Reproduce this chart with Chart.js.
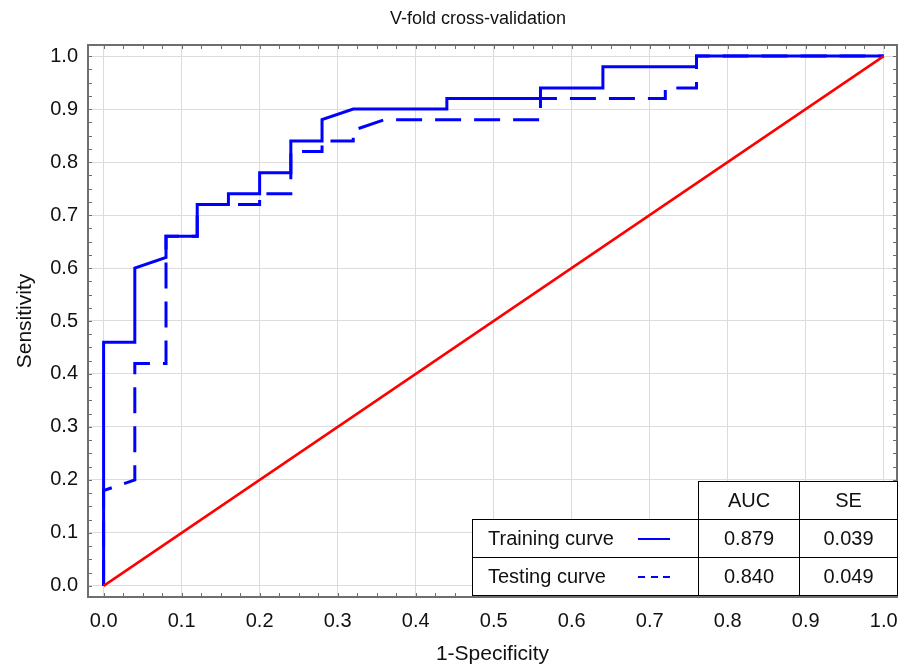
<!DOCTYPE html>
<html>
<head>
<meta charset="utf-8">
<title>V-fold cross-validation</title>
<script src="https://cdn.jsdelivr.net/npm/chart.js@4/dist/chart.umd.min.js"></script>
<style>
  body { margin: 0; background: #fff; }
  #wrap { position: relative; width: 902px; height: 669px; font-family: "Liberation Sans", Arial, sans-serif; color: #111; }
  #rocChart { position: absolute; left: 0; top: 0; }
  #chartTitle { position: absolute; left: 278px; top: 8px; width: 400px; text-align: center; font-size: 18px; line-height: 20px; }
  #aucTable { position: absolute; left: 472px; top: 481px; border-collapse: collapse; font-size: 20px; }
  #aucTable td { border: 1.5px solid #000; background: #fff; padding: 0; height: 37px; text-align: center; }
  #aucTable td.blank { border: none; background: transparent; }
  #aucTable td.name { text-align: left; padding-left: 15px; position: relative; }
  .sample { position: absolute; left: 165px; top: 50%; width: 32px; height: 2px; margin-top: -1px; }
  .sample.solid { background: #0000ff; }
  .sample.dashed { background: repeating-linear-gradient(90deg, #0000ff 0 7px, transparent 7px 12.5px); }
</style>
</head>
<body>
<div id="wrap">
  <canvas id="rocChart" width="902" height="669"></canvas>
  <div id="chartTitle">V-fold cross-validation</div>
  <table id="aucTable"></table>
</div>
<script>
// ROC data
const trainFpr = [0, 0, 0.04, 0.04, 0.08, 0.08, 0.12, 0.12, 0.16, 0.16, 0.20, 0.20, 0.24, 0.24, 0.28, 0.28, 0.32, 0.44, 0.44, 0.56, 0.56, 0.64, 0.64, 0.76, 0.76, 1.0];
const trainTpr = [0, 0.46, 0.46, 0.60, 0.62, 0.66, 0.66, 0.72, 0.72, 0.74, 0.74, 0.78, 0.78, 0.84, 0.84, 0.88, 0.90, 0.90, 0.92, 0.92, 0.94, 0.94, 0.98, 0.98, 1.0, 1.0];

const testFpr = [0, 0, 0.04, 0.04, 0.08, 0.08, 0.08, 0.12, 0.12, 0.20, 0.20, 0.24, 0.24, 0.28, 0.28, 0.32, 0.32, 0.36, 0.56, 0.56, 0.72, 0.72, 0.76, 0.76, 1.0];
const testTpr = [0, 0.18, 0.20, 0.42, 0.42, 0.62, 0.66, 0.66, 0.72, 0.72, 0.74, 0.74, 0.82, 0.82, 0.84, 0.84, 0.86, 0.88, 0.88, 0.92, 0.92, 0.94, 0.94, 1.0, 1.0];

const chanceFpr = [0, 1];
const chanceTpr = [0, 1];

const axisTicks = [0, 0.1, 0.2, 0.3, 0.4, 0.5, 0.6, 0.7, 0.8, 0.9, 1.0];

const curveNames = ['Training curve', 'Testing curve'];
const aucValues = ['0.879', '0.840'];
const seValues = ['0.039', '0.049'];

const FONT = '"Liberation Sans", Arial, sans-serif';
const toPoints = (xs, ys) => xs.map((x, i) => ({ x, y: ys[i] }));

// Table of AUC / SE
const table = document.getElementById('aucTable');
table.innerHTML = `
  <colgroup><col style="width:226px"><col style="width:101px"><col style="width:98px"></colgroup>
  <tr><td class="blank"></td><td>AUC</td><td>SE</td></tr>
  ${curveNames.map((n, i) => `
    <tr><td class="name">${n}<span class="sample ${i === 0 ? 'solid' : 'dashed'}"></span></td>
    <td>${aucValues[i]}</td><td>${seValues[i]}</td></tr>`).join('')}
`;

// frame + small inward ticks on all four sides
const frameTicks = {
  id: 'frameTicks',
  afterDraw(chart) {
    const { ctx, chartArea: a, scales: { x, y } } = chart;
    ctx.save();
    ctx.strokeStyle = '#6e6e6e';
    ctx.lineWidth = 1;
    ctx.beginPath();
    for (let k = 0; k <= 40; k++) {
      const v = k / 40;
      const px = Math.round(x.getPixelForValue(v)) + 0.5;
      const py = Math.round(y.getPixelForValue(v)) + 0.5;
      ctx.moveTo(px, a.top); ctx.lineTo(px, a.top + 4);
      ctx.moveTo(px, a.bottom); ctx.lineTo(px, a.bottom - 4);
      ctx.moveTo(a.left, py); ctx.lineTo(a.left + 4, py);
      ctx.moveTo(a.right, py); ctx.lineTo(a.right - 4, py);
    }
    ctx.stroke();
    ctx.lineWidth = 2;
    ctx.strokeRect(a.left, a.top, a.right - a.left, a.bottom - a.top);
    ctx.restore();
  }
};

const fixedTicks = s => { s.ticks = axisTicks.map(v => ({ value: v })); };

new Chart(document.getElementById('rocChart'), {
  type: 'line',
  data: {
    datasets: [
      {
        label: 'Chance',
        data: toPoints(chanceFpr, chanceTpr),
        borderColor: '#ff0000',
        borderWidth: 2.5,
      },
      {
        label: 'Training curve',
        data: toPoints(trainFpr, trainTpr),
        borderColor: '#0000ff',
        borderWidth: 3,
      },
      {
        label: 'Testing curve',
        data: toPoints(testFpr, testTpr),
        borderColor: '#0000ff',
        borderWidth: 3,
        borderDash: [26, 13],
      }
    ]
  },
  options: {
    responsive: false,
    animation: false,
    elements: { point: { radius: 0 }, line: { tension: 0, fill: false } },
    layout: { padding: { top: 45, right: 5, left: 0, bottom: 0 } },
    plugins: { legend: { display: false }, tooltip: { enabled: false } },
    scales: {
      x: {
        type: 'linear', min: -0.02, max: 1.017,
        afterBuildTicks: fixedTicks,
        afterFit: s => { s.height = 72; s.paddingLeft = 0; s.paddingRight = 0; },
        grid: { color: '#dcdcdc', drawTicks: false },
        border: { display: false },
        ticks: { padding: 12, color: '#111', autoSkip: false, maxRotation: 0,
                 font: { size: 20, family: FONT }, callback: v => Number(v).toFixed(1) },
        title: { display: true, text: '1-Specificity', color: '#111',
                 font: { size: 21, family: FONT }, padding: { top: 0, bottom: 2 } }
      },
      y: {
        type: 'linear', min: -0.021, max: 1.021,
        afterBuildTicks: fixedTicks,
        afterFit: s => { s.width = 88; s.paddingTop = 0; s.paddingBottom = 0; },
        grid: { color: '#dcdcdc', drawTicks: false },
        border: { display: false },
        ticks: { padding: 10, color: '#111', autoSkip: false,
                 font: { size: 20, family: FONT }, callback: v => Number(v).toFixed(1) },
        title: { display: true, text: 'Sensitivity', color: '#111',
                 font: { size: 21, family: FONT }, padding: { top: 13, bottom: 0 } }
      }
    }
  },
  plugins: [frameTicks]
});
</script>
</body>
</html>
